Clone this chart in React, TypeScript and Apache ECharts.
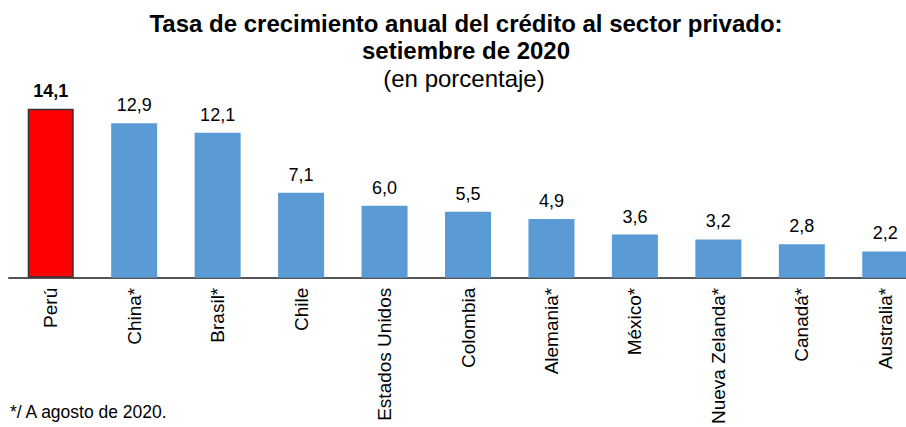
import React, { useEffect, useRef } from "react";
import * as echarts from "echarts";

const categories = ["Perú", "China*", "Brasil*", "Chile", "Estados Unidos", "Colombia", "Alemania*", "México*", "Nueva Zelanda*", "Canadá*", "Australia*"];
const values = [14.1, 12.9, 12.1, 7.1, 6.0, 5.5, 4.9, 3.6, 3.2, 2.8, 2.2];
const titleLines = ["Tasa de crecimiento anual del crédito al sector privado:", "setiembre de 2020"];
const subtitle = "(en porcentaje)";
const footnote = "*/ A agosto de 2020.";

const FONT = "'Liberation Sans', Arial, sans-serif";

export default function App() {
  const ref = useRef<HTMLDivElement>(null);
  useEffect(() => {
    document.body.style.margin = "0";
    document.body.style.overflow = "hidden";
    if (!ref.current) return;
    const chart = echarts.init(ref.current, null, { renderer: "svg" });
    const data = values.map((v, i) =>
      i === 0
        ? {
            value: v,
            itemStyle: { color: "#FF0000", borderColor: "#333333", borderWidth: 1.5 },
            label: { fontWeight: "bold" as const },
          }
        : { value: v, itemStyle: { color: "#5B9BD5" } }
    );
    chart.setOption({
      animation: false,
      backgroundColor: "#ffffff",
      grid: { left: 9, right: 1, top: 98, height: 183, containLabel: false },
      xAxis: {
        type: "category",
        data: categories,
        axisLine: { lineStyle: { color: "#555555", width: 2 } },
        axisTick: { show: false },
        axisLabel: {
          rotate: 90,
          interval: 0,
          margin: 10,
          fontSize: 19,
          color: "#000000",
          fontFamily: FONT,
        },
      },
      yAxis: {
        type: "value",
        min: 0,
        max: 15,
        show: false,
        splitLine: { show: false },
      },
      series: [
        {
          type: "bar",
          data,
          barWidth: 46,
          label: {
            show: true,
            position: "top",
            distance: 9,
            fontSize: 18,
            color: "#000000",
            fontFamily: FONT,
            formatter: (p: any) => Number(p.value).toFixed(1).replace(".", ","),
          },
        },
      ],
      graphic: [
        {
          type: "text",
          x: 466,
          y: 23,
          style: {
            text: titleLines[0],
            font: `bold 24px ${FONT}`,
            fill: "#000",
            textAlign: "center",
            textVerticalAlign: "middle",
          },
        },
        {
          type: "text",
          x: 466,
          y: 50,
          style: {
            text: titleLines[1],
            font: `bold 24px ${FONT}`,
            fill: "#000",
            textAlign: "center",
            textVerticalAlign: "middle",
          },
        },
        {
          type: "text",
          x: 464,
          y: 78,
          style: {
            text: subtitle,
            font: `24px ${FONT}`,
            fill: "#000",
            textAlign: "center",
            textVerticalAlign: "middle",
          },
        },
        {
          type: "text",
          x: 10,
          y: 412,
          style: {
            text: footnote,
            font: `17.5px ${FONT}`,
            fill: "#000",
            textAlign: "left",
            textVerticalAlign: "middle",
          },
        },
      ],
    });
    return () => chart.dispose();
  }, []);
  return <div ref={ref} style={{ width: 928, height: 427 }} />;
}
